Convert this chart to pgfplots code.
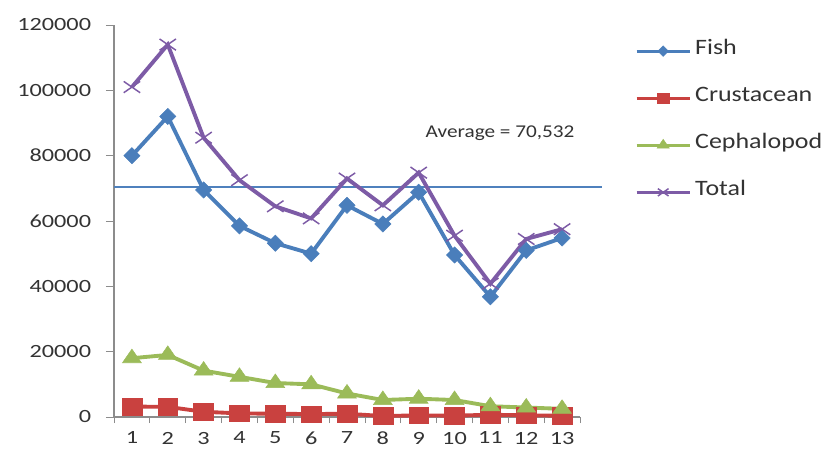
\documentclass[border=0pt]{standalone}
\usepackage{fontspec}
\usepackage{pgfplots}
\usepackage{pgfplotstable}
\pgfplotsset{compat=1.18}
\setmainfont{Carlito}
\newfontfamily\tickfont{Carlito}[FakeStretch=1.3]
\newfontfamily\legfont{Carlito}[FakeStretch=1.18]

\definecolor{fishblue}{HTML}{4A7EBB}
\definecolor{crustred}{HTML}{C9413F}
\definecolor{cephgreen}{HTML}{9BBB59}
\definecolor{totpurple}{HTML}{7D5BA6}
\definecolor{axisgray}{HTML}{8C8C8C}
\definecolor{avgblue}{HTML}{4F81BD}
\definecolor{txt}{HTML}{333333}

% catch by group, per sample
\pgfplotstableread{
n  fish  crust ceph  total
1  80000 3200  18000 101000
2  92000 3100  19000 114000
3  69500 1600  14200 85500
4  58500 1100  12300 72500
5  53200 1000  10400 64500
6  50000 900   10000 60800
7  64800 1000  7200  73000
8  59100 300   5200  64800
9  68800 500   5600  74800
10 49600 400   5200  55500
11 36800 700   3300  40800
12 51000 500   2900  54500
13 54800 400   2500  57500
}\catchtable

\begin{document}
\begin{tikzpicture}
\useasboundingbox (0pt,0pt) rectangle (619.5pt,338.25pt);
\begin{axis}[
  at={(85.5pt,25.5pt)}, anchor=south west,
  scale only axis, width=349.5pt, height=294pt,
  xmin=0.5, xmax=13.5, ymin=0, ymax=120000,
  axis x line*=bottom, axis y line*=left,
  axis line style={axisgray, line width=0.8pt, -},
  xtick={1,...,13},
  minor xtick={0.5,1.5,...,13.5},
  ytick={0,20000,...,120000},
  tick align=outside,
  major tick length=6pt, minor tick length=4.5pt,
  major x tick style={draw=none},
  minor x tick style={axisgray, line width=0.6pt},
  major y tick style={axisgray, line width=0.6pt},
  /pgf/number format/assume math mode=true,
  /pgf/number format/fixed,
  /pgf/number format/1000 sep={},
  scaled y ticks=false,
  yticklabel style={font=\tickfont\fontsize{14}{16}\selectfont, text=txt, inner sep=0pt, xshift=-11pt},
  xticklabel style={font=\tickfont\fontsize{14}{16}\selectfont, text=txt, inner sep=0pt, yshift=-5pt},
  clip=false,
  legend style={draw=none, fill=none, at={(1.1094,0.957)}, anchor=north west,
    font=\legfont\fontsize{16.5}{18}\selectfont, text=txt,
    nodes={inner sep=0pt, text height=0.7em, text depth=0.25em},
    row sep=25.8pt, column sep=3pt},
  legend cell align=left,
  legend image code/.code={
    \draw[#1, line width=2.2pt, mark repeat=2, mark phase=2, every mark/.append style={scale=0.65}]
      plot coordinates {(0pt,0pt) (19.875pt,0pt) (39.75pt,0pt)};
  },
]
% overall mean across samples
\addplot[avgblue, line width=1.4pt, forget plot] coordinates {(0.5,70532) (14.11,70532)};
\node[font=\legfont\fontsize{13.5}{15}\selectfont, text=txt] at (axis cs:11.27,86900) {Average = 70,532};

\addplot[fishblue, line width=2.9pt, mark=square*,
  mark size=4.3pt, mark options={rotate=45, solid, line width=0.4pt}]
  table[x=n, y=fish] {\catchtable};
\addlegendentry{Fish}
\addplot[crustred, line width=2.9pt, mark=square*,
  mark size=6.2pt, mark options={xscale=1.2, solid, line width=0.4pt}]
  table[x=n, y=crust] {\catchtable};
\addlegendentry{Crustacean}
\addplot[cephgreen, line width=2.9pt, mark=triangle*,
  mark size=6.8pt, mark options={xscale=1.2, solid, line width=0.4pt}]
  table[x=n, y=ceph] {\catchtable};
\addlegendentry{Cephalopod}
\addplot[totpurple, line width=2.9pt, mark=x,
  mark size=6pt, mark options={xscale=1.45, solid, line width=1.1pt}]
  table[x=n, y=total] {\catchtable};
\addlegendentry{Total}
\end{axis}
\end{tikzpicture}
\end{document}
